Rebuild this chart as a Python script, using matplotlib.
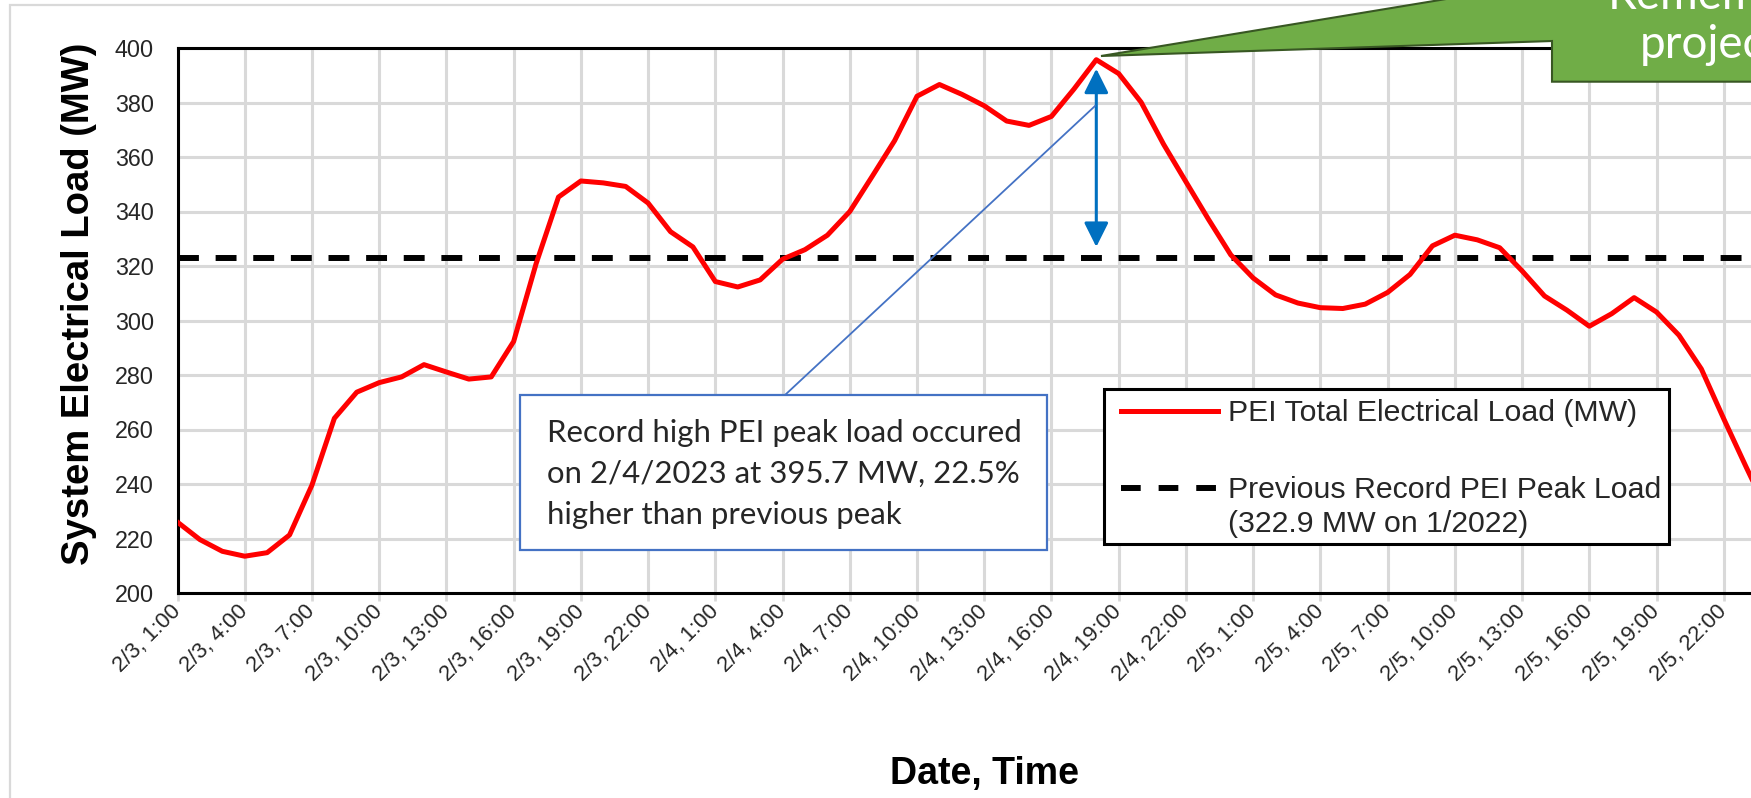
import matplotlib
matplotlib.use("Agg")
import matplotlib.pyplot as plt
from matplotlib.patches import Rectangle, Polygon
from matplotlib.lines import Line2D

W, H, DPI = 1751, 798, 100

# ---------------- data ----------------
# hours since 2/3 1:00 (hourly readings)
hours = list(range(72))
load_mw = [
    226.0, 219.6, 215.3, 213.5, 214.8, 221.3, 239.6, 264.1, 273.7, 277.2,
    279.3, 283.8, 281.1, 278.5, 279.3, 292.3, 320.8, 345.3, 351.2, 350.5,
    349.2, 343.1, 332.6, 327.0, 314.3, 312.3, 314.9, 322.5, 326.0, 331.3,
    340.0, 352.9, 366.0, 382.3, 386.6, 383.0, 378.8, 373.2, 371.6, 374.9,
    384.9, 395.7, 390.6, 380.1, 364.7, 350.9, 337.2, 324.1, 315.6, 309.4,
    306.4, 304.7, 304.4, 306.0, 310.3, 316.9, 327.4, 331.3, 329.6, 326.7,
    318.2, 309.0, 303.8, 297.9, 302.5, 308.4, 303.1, 294.6, 282.2, 263.9,
    246.2, 229.0,
]
prev_record_mw = 322.9
peak_hour = 41
peak_mw = 395.7

tick_hours = list(range(0, 70, 3))
tick_labels = [
    "2/3, 1:00", "2/3, 4:00", "2/3, 7:00", "2/3, 10:00", "2/3, 13:00",
    "2/3, 16:00", "2/3, 19:00", "2/3, 22:00",
    "2/4, 1:00", "2/4, 4:00", "2/4, 7:00", "2/4, 10:00", "2/4, 13:00",
    "2/4, 16:00", "2/4, 19:00", "2/4, 22:00",
    "2/5, 1:00", "2/5, 4:00", "2/5, 7:00", "2/5, 10:00", "2/5, 13:00",
    "2/5, 16:00", "2/5, 19:00", "2/5, 22:00",
]
y_ticks = [200, 220, 240, 260, 280, 300, 320, 340, 360, 380, 400]

series_label = "PEI Total Electrical Load (MW)"
record_label_1 = "Previous Record PEI Peak Load"
record_label_2 = "(322.9 MW on 1/2022)"
note_lines = [
    "Record high PEI peak load occured",
    "on 2/4/2023 at 395.7 MW, 22.5%",
    "higher than previous peak",
]
callout_lines = ["Remember", "projected"]

# ---------------- style ----------------
ARIAL = ["Liberation Sans", "DejaVu Sans"]
CALIBRI = ["Lato", "DejaVu Sans"]
RED = "#FF0000"
GRID = "#D9D9D9"
TXT = "#262626"


def fx(px):
    return px / W


def fy(py):
    return 1 - py / H


fig = plt.figure(figsize=(W / DPI, H / DPI), dpi=DPI)
fig.patch.set_facecolor("white")

# outer chart-area frame
fig.add_artist(Rectangle((fx(10), -0.5), 2, 1.5 - 5 / H, transform=fig.transFigure,
                         fill=False, edgecolor="#D9D9D9", lw=1.6))

ax_l, ax_r, ax_t, ax_b = 177.5, 1791, 48, 593
ax = fig.add_axes([fx(ax_l), fy(ax_b), (ax_r - ax_l) / W, (ax_b - ax_t) / H])
ax.set_xlim(0, 72)
ax.set_ylim(200, 400)

ax.grid(True, color=GRID, lw=2.2, zorder=0)
ax.set_axisbelow(True)

ax.plot(hours, load_mw, color=RED, lw=3.6, zorder=4, solid_joinstyle="round")
ax.axhline(prev_record_mw, color="black", lw=4.3, dashes=(3.5, 2.8), zorder=3)

ax.set_xticks(tick_hours)
ax.set_xticklabels(tick_labels, rotation=45, ha="right", va="center",
                   rotation_mode="anchor", fontsize=15.9, family=ARIAL, color=TXT)
ax.set_yticks(y_ticks)
ax.set_yticklabels([str(v) for v in y_ticks], fontsize=16.8, family=ARIAL, color=TXT)
ax.tick_params(axis="x", length=6, width=2, color=GRID, pad=5)
ax.tick_params(axis="y", length=0, pad=17)

for s in ax.spines.values():
    s.set_color("black")
    s.set_linewidth(2.2)

xl = ax.set_xlabel("Date, Time", fontsize=27, fontweight="bold", family=ARIAL,
                   color="black", va="center")
ax.xaxis.set_label_coords(0.5, (ax_b - 774) / (ax_b - ax_t))
yl = ax.set_ylabel("System Electrical Load (MW)", fontsize=27.5, fontweight="bold",
                   family=ARIAL, color="black", va="center")
ax.yaxis.set_label_coords((79 - ax_l) / (ax_r - ax_l), (ax_b - 304) / (ax_b - ax_t))

# double arrow between previous record and new peak
ax.annotate("", xy=(peak_hour, peak_mw - 3.3), xytext=(peak_hour, prev_record_mw + 4.1),
            arrowprops=dict(arrowstyle="<|-|>,head_length=0.4,head_width=0.2",
                            color="#0070C0", lw=2.2, mutation_scale=37,
                            shrinkA=0, shrinkB=0), zorder=6)

# note box with connector
fig.add_artist(Line2D([fx(785), fx(1095)], [fy(395), fy(106)], transform=fig.transFigure,
                      color="#4472C4", lw=1.3, zorder=5))
fig.add_artist(Rectangle((fx(520), fy(550)), (1047 - 520) / W, (550 - 395) / H,
                         transform=fig.transFigure, facecolor="white",
                         edgecolor="#4472C4", lw=1.6, zorder=6))
for i, line in enumerate(note_lines):
    fig.text(fx(547), fy(442 + 41 * i), line, fontsize=22.4, family=CALIBRI,
             color=TXT, va="baseline", ha="left", zorder=7)

# legend (drawn by hand to match Excel layout)
fig.add_artist(Rectangle((fx(1104), fy(544)), (1669 - 1104) / W, (544 - 389) / H,
                         transform=fig.transFigure, facecolor="white",
                         edgecolor="black", lw=2.2, zorder=6))
fig.add_artist(Line2D([fx(1121), fx(1218)], [fy(411), fy(411)], transform=fig.transFigure,
                      color=RED, lw=3.6, zorder=7))
fig.add_artist(Line2D([fx(1121), fx(1218)], [fy(488), fy(488)], transform=fig.transFigure,
                      color="black", lw=4.3, dashes=(3.3, 3.0), zorder=7))
fig.text(fx(1228), fy(421), series_label, fontsize=21.8, family=ARIAL, color=TXT,
         va="baseline", zorder=8)
fig.text(fx(1228), fy(498), record_label_1, fontsize=21.8, family=ARIAL, color=TXT,
         va="baseline", zorder=8)
fig.text(fx(1228), fy(532), record_label_2, fontsize=21.8, family=ARIAL, color=TXT,
         va="baseline", zorder=8)

# green callout (mostly cut off at the right edge)
poly_px = [(1101, 56), (1552, -18.5), (1552, -90), (1950, -90), (1950, 81.7),
           (1552, 81.7), (1552, 41)]
fig.add_artist(Polygon([(fx(x), fy(y)) for x, y in poly_px], closed=True,
                       transform=fig.transFigure, facecolor="#70AD47",
                       edgecolor="#385723", lw=1.5, zorder=9))
fig.text(fx(1608), fy(9), callout_lines[0], fontsize=33, family=CALIBRI,
         color="white", va="baseline", zorder=10)
fig.text(fx(1640), fy(58), callout_lines[1], fontsize=33, family=CALIBRI,
         color="white", va="baseline", zorder=10)

fig.savefig("out.png", dpi=DPI)
